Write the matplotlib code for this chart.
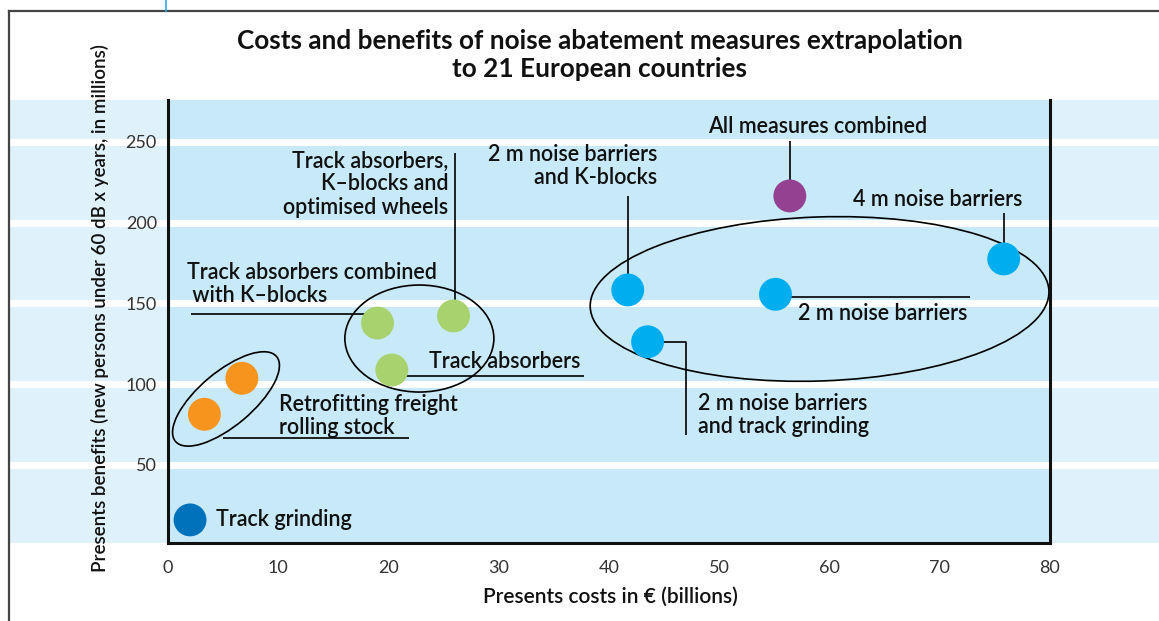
import matplotlib
matplotlib.use("Agg")
import matplotlib.pyplot as plt
import matplotlib.transforms as mtransforms
from matplotlib.patches import Ellipse, Rectangle
from matplotlib.lines import Line2D

plt.rcParams['font.family'] = ['Lato', 'DejaVu Sans']

# ---------------- data ----------------
names = ["Track grinding",
         "Retrofitting freight rolling stock (a)",
         "Retrofitting freight rolling stock (b)",
         "Track absorbers combined with K-blocks",
         "Track absorbers",
         "Track absorbers, K-blocks and optimised wheels",
         "2 m noise barriers and K-blocks",
         "2 m noise barriers and track grinding",
         "2 m noise barriers",
         "All measures combined",
         "4 m noise barriers"]
costs = [2.0, 3.3, 6.7, 19.0, 20.3, 25.9, 41.7, 43.5, 55.1, 56.4, 75.8]
benefits = [16.0, 81.4, 103.7, 137.9, 108.8, 142.3, 158.4, 126.3, 155.7, 216.6, 177.6]
colors = ["#0072bc", "#f7941d", "#f7941d", "#a8d26e", "#a8d26e", "#a8d26e",
          "#00aeef", "#00aeef", "#00aeef", "#954192", "#00aeef"]

x_ticks = [0, 10, 20, 30, 40, 50, 60, 70, 80]
y_ticks = [50, 100, 150, 200, 250]

title = "Costs and benefits of noise abatement measures extrapolation\nto 21 European countries"
xlabel = "Presents costs in € (billions)"
ylabel = "Presents benefits (new persons under 60 dB x years, in millions)"

# ---------------- figure ----------------
W, H = 1159, 621
fig = plt.figure(figsize=(W / 100, H / 100), dpi=100)
fig.patch.set_facecolor("white")

ax_l, ax_r, ax_t, ax_b = 168, 1050, 100, 543
ax = fig.add_axes([ax_l / W, 1 - ax_b / H, (ax_r - ax_l) / W, (ax_b - ax_t) / H])
ax.set_xlim(0, 80)
ax.set_ylim(1.7, 276)
ax.set_facecolor("#c7e9f8")
ax.patch.set_zorder(0)

# light band behind the whole width
fig.patches.append(Rectangle((9 / W, 1 - ax_b / H), 1 - 9 / W, (ax_b - ax_t) / H,
                             transform=fig.transFigure, facecolor="#dff2fb",
                             edgecolor="none", zorder=-10))

# white stripes across figure width at tick values
blend = mtransforms.blended_transform_factory(fig.transFigure, ax.transData)
for yv in y_ticks:
    ax.add_line(Line2D([10 / W, 1.0], [yv, yv], transform=blend, color="white",
                       lw=5.0, clip_on=False, zorder=0.5))

# frame lines
fig.add_artist(Line2D([9 / W, 9 / W], [0, 1 - 11 / H], transform=fig.transFigure,
                      color="#444444", lw=1.6))
fig.add_artist(Line2D([9 / W, 1], [1 - 11 / H, 1 - 11 / H], transform=fig.transFigure,
                      color="#444444", lw=1.6))
fig.add_artist(Line2D([166 / W, 166 / W], [1 - 11 / H, 1], transform=fig.transFigure,
                      color="#29abe2", lw=1.2))

# spines
for s in ["left", "right", "bottom"]:
    ax.spines[s].set_linewidth(2.2)
    ax.spines[s].set_color("#111111")
    ax.spines[s].set_zorder(5)
ax.spines["top"].set_visible(False)

ax.set_xticks(x_ticks)
ax.set_yticks(y_ticks)
ax.tick_params(length=0, labelsize=13, labelcolor="#333333")
ax.tick_params(axis="x", pad=12)
ax.tick_params(axis="y", pad=8)
for lbl in ax.get_xticklabels() + ax.get_yticklabels():
    lbl.set_fontweight("normal")

# ---------------- ellipses (sizes in pixels) ----------------
def px_ellipse(cx, cy, wpx, hpx, angle):
    tr = mtransforms.ScaledTranslation(cx, cy, ax.transData)
    e = Ellipse((0, 0), wpx, hpx, angle=angle, transform=tr,
                facecolor="none", edgecolor="black", lw=1.2, zorder=2)
    ax.add_patch(e)

px_ellipse(5.26, 90.9, 132, 54, 40)
px_ellipse(22.8, 128.3, 149, 107, 0)
px_ellipse(59.1, 152.8, 459, 164, 2)

# ---------------- leader lines ----------------
lk = dict(color="black", lw=1.2, zorder=2, solid_capstyle="butt")
ax.plot([5.0, 21.85], [66.7, 66.7], **lk)                      # retrofitting
ax.plot([costs[4], 37.7], [105.1, 105.1], **lk)                 # track absorbers
ax.plot([2.1, costs[3]], [143.5, 143.5], **lk)                  # combined with K-blocks
ax.plot([26.0, 26.0], [243.0, benefits[5]], **lk)              # absorbers, K-blocks, wheels
ax.plot([costs[6], costs[6]], [216.4, benefits[6]], **lk)       # 2m + K-blocks
ax.plot([costs[9], costs[9]], [250.6, benefits[9]], **lk)       # all combined
ax.plot([costs[10], costs[10]], [206.0, benefits[10]], **lk)    # 4 m
ax.plot([costs[8], 72.7], [154.0, 154.0], **lk)                 # 2 m
ax.plot([costs[7], 47.0, 47.0], [126.0, 126.0, 68.6], **lk)     # 2 m + grinding

# ---------------- points ----------------
ax.scatter(costs, benefits, s=560, c=colors, edgecolors="none", zorder=3)

# ---------------- labels ----------------
tk = dict(fontsize=15.5, fontweight="semibold", color="#111111", zorder=4,
          linespacing=1.12)
ax.text(4.35, 16.0, "Track grinding", ha="left", va="center", **tk)
ax.text(10.06, 80.3, "Retrofitting freight\nrolling stock", ha="left", va="center", **tk)
ax.text(23.7, 113.8, "Track absorbers", ha="left", va="center", **tk)
ax.text(1.72, 161.8, "Track absorbers combined\n with K–blocks", ha="left", va="center", **tk)
ax.text(25.4, 224.0, "Track absorbers,\nK–blocks and\noptimised wheels", ha="right",
        va="center", multialignment="right", **tk)
ax.text(44.4, 235.1, "2 m noise barriers\nand K-blocks", ha="right", va="center",
        multialignment="right", **tk)
ax.text(58.9, 259.9, "All measures combined", ha="center", va="center", **tk)
ax.text(62.1, 214.7, "4 m noise barriers", ha="left", va="center", **tk)
ax.text(57.1, 144.1, "2 m noise barriers", ha="left", va="center", **tk)
ax.text(48.05, 81.0, "2 m noise barriers\nand track grinding", ha="left", va="center", **tk)

# title and axis labels
fig.text(600 / W, 1 - 55 / H, title, ha="center", va="center", fontsize=18.8,
         fontweight="bold", color="#111111", linespacing=1.2)
fig.text(610 / W, 1 - 597 / H, xlabel, ha="center", va="center", fontsize=15,
         fontweight="semibold", color="#111111")
fig.text(100 / W, 1 - 308 / H, ylabel, ha="center", va="center", rotation=90,
         fontsize=13.5, fontweight="semibold", color="#111111")

fig.savefig("out.png", dpi=100)
